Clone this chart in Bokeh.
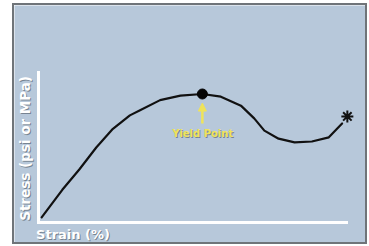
from bokeh.plotting import figure
from bokeh.models import Label, Arrow, NormalHead, Range1d, ColumnDataSource, FixedTicker
from bokeh.embed import file_html
from bokeh.resources import INLINE
import math

# ---- data (strain %, stress, arbitrary 0-100 units) ----
strain = [1.1, 7.8, 13.3, 18.8, 24.2, 29.7, 33.0, 39.5, 46.1, 53.2, 59.2, 65.7,
          70.0, 73.3, 77.9, 83.1, 88.7, 94.2, 98.5]
stress = [3.1, 21.6, 35.2, 49.9, 62.4, 71.4, 74.8, 81.6, 84.6, 85.7, 83.9, 77.9,
          69.4, 61.2, 55.8, 53.3, 53.9, 56.7, 66.0]
yield_strain = [53.2]
yield_stress = [85.7]
fracture_strain = [100.2]
fracture_stress = [70.7]

x_label = "Strain (%)"
y_label = "Stress (psi or MPa)"
yield_label = "Yield Point"

BG = "#b7c8da"
YELLOW = "#efe35a"
SHADOW = "#4a5560"
FONT = "DejaVu Sans"

p = figure(width=351, height=237, output_backend="svg", toolbar_location=None,
           x_range=Range1d(-7.70, 107.38), y_range=Range1d(-16.33, 144.90),
           min_border=0,
           styles={"margin-left": "12px", "margin-top": "3px",
                   "border": "2px solid #6f7479",
                   "box-sizing": "content-box"})
p.background_fill_color = BG
p.border_fill_color = BG
p.outline_line_color = None
p.grid.visible = False

for ax in (p.xaxis[0], p.yaxis[0]):
    ax.fixed_location = 0
    ax.bounds = (0, 100)
    ax.ticker = FixedTicker(ticks=[])
    ax.major_tick_line_color = None
    ax.minor_tick_line_color = None
    ax.major_tick_out = 0
    ax.minor_tick_out = 0
    ax.major_label_standoff = 0
    ax.major_label_text_font_size = "0px"
    ax.axis_line_color = "white"
    ax.axis_line_width = 3
    ax.axis_line_cap = "square"

src = ColumnDataSource(dict(x=strain, y=stress))
p.line("x", "y", source=src, line_color="#111111", line_width=2.2,
       line_join="round", line_cap="round")

# yield point marker
p.scatter(yield_strain, yield_stress, size=10, marker="circle",
          fill_color="#050505", line_color="#050505")
# fracture marker
p.scatter(fracture_strain, fracture_stress, size=12, marker="asterisk",
          line_color="#111111", line_width=2)

# arrow pointing at yield point
p.add_layout(Arrow(x_start=yield_strain[0], y_start=66.0,
                   x_end=yield_strain[0], y_end=79.6,
                   line_color=YELLOW, line_width=2.5,
                   end=NormalHead(size=8, fill_color=YELLOW, line_color=YELLOW,
                                  line_width=1)))

def shadowed(text, x, y, color, size, align, baseline, angle=0.0):
    p.add_layout(Label(x=x, y=y, x_offset=1, y_offset=-1, text=text,
                       text_color=SHADOW, text_alpha=0.6, text_font=FONT,
                       text_font_style="bold", text_font_size=size,
                       text_align=align, text_baseline=baseline, angle=angle))
    p.add_layout(Label(x=x, y=y, text=text, text_color=color, text_font=FONT,
                       text_font_style="bold", text_font_size=size,
                       text_align=align, text_baseline=baseline, angle=angle))

shadowed(yield_label, 53.3, 59.2, YELLOW, "10px", "center", "middle")
shadowed(x_label, -0.7, -8.0, "white", "13px", "left", "middle")
shadowed(y_label, -4.4, 49.3, "white", "13.5px", "center", "middle", angle=math.pi / 2)

open("out.html", "w").write(file_html(p, INLINE))
